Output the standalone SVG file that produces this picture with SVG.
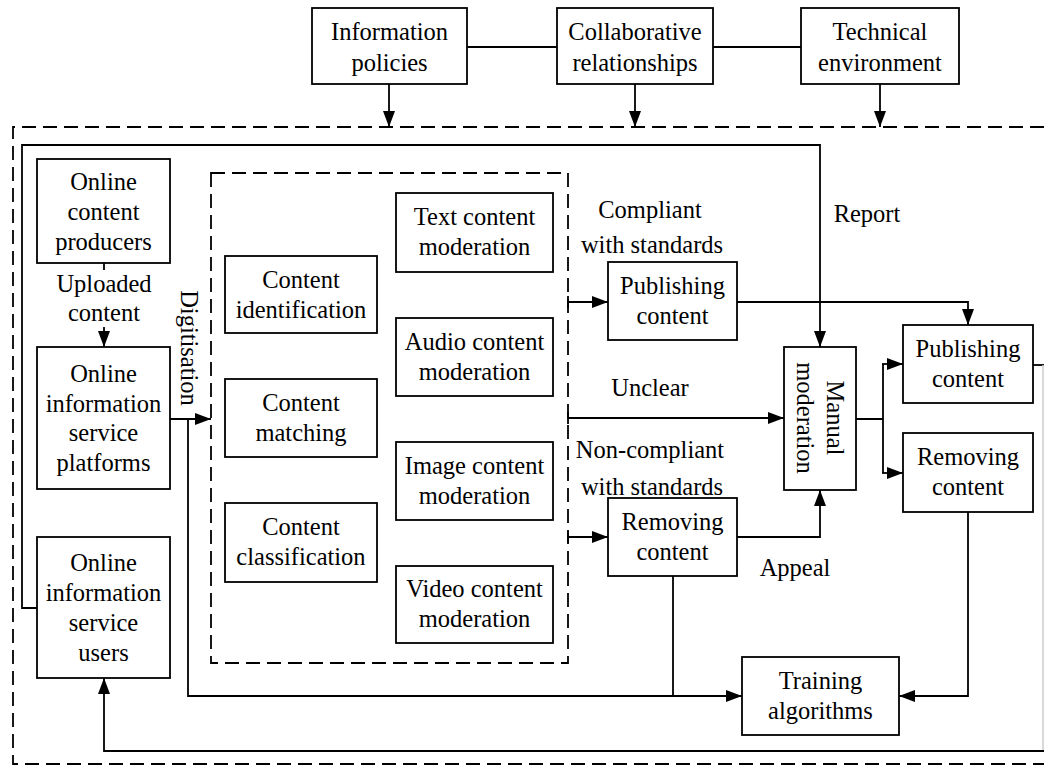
<svg xmlns="http://www.w3.org/2000/svg" width="1044" height="766" viewBox="0 0 1044 766">
<style>
.box{fill:#fff;stroke:#000;stroke-width:1.8}
.ln{fill:none;stroke:#000;stroke-width:1.8}
.dash{fill:none;stroke:#000;stroke-width:1.8;stroke-dasharray:14 7}
text{font-family:"Liberation Serif","Times New Roman",serif;font-size:24.5px;fill:#000;text-anchor:middle}
</style>
<defs>
<marker id="ah" markerUnits="userSpaceOnUse" markerWidth="17" markerHeight="13" refX="16" refY="6" orient="auto">
<path d="M0,0 L16,6 L0,12 z" fill="#000"/>
</marker>
</defs>
<rect width="1044" height="766" fill="#fff"/>
<g id="outer-dashed"><path class="dash" d="M1044,127 H13 V764 H1044"/></g>
<g id="inner-dashed"><rect class="dash" x="211" y="173" width="357" height="490"/></g>
<g id="connectors">
<path class="ln" d="M467,47 H557 M713,47 H801"/>
<path class="ln" d="M389,84 V127" marker-end="url(#ah)"/>
<path class="ln" d="M635,84 V127" marker-end="url(#ah)"/>
<path class="ln" d="M880,84 V127" marker-end="url(#ah)"/>
<path class="ln" d="M104,263 V270"/>
<path class="ln" d="M104,327 V347" marker-end="url(#ah)"/>
<path class="ln" d="M170,419 H211" marker-end="url(#ah)"/>
<path class="ln" d="M188,419 V696 H742" marker-end="url(#ah)"/>
<path class="ln" d="M568,302 H608" marker-end="url(#ah)"/>
<path class="ln" d="M568,418 H784" marker-end="url(#ah)"/>
<path class="ln" d="M568,537 H608" marker-end="url(#ah)"/>
<path class="ln" d="M737,302 H968 V325" marker-end="url(#ah)"/>
<path class="ln" d="M737,537 H820 V490" marker-end="url(#ah)"/>
<path class="ln" d="M673,576 V696"/>
<path class="ln" d="M37,608 H22 V145 H820 V347" marker-end="url(#ah)"/>
<path class="ln" d="M856,419 H883 M883,364 V473"/>
<path class="ln" d="M882,364 H903" marker-end="url(#ah)"/>
<path class="ln" d="M882,473 H903" marker-end="url(#ah)"/>
<path class="ln" d="M968,512 V696 H899" marker-end="url(#ah)"/>
<path class="ln" d="M1033,365 H1044"/>
<path d="M1043,365 V751" fill="none" stroke="#ccc" stroke-width="1.5"/>
<path class="ln" d="M1044,751 H104 V678" marker-end="url(#ah)"/>
<path d="M568,296 V308 M568,412 V424 M568,531 V543" class="ln"/>
</g>
<g id="info-policies"><rect class="box" x="312" y="8" width="155" height="76"/><text x="389.5" y="40">Information</text><text x="389.5" y="71">policies</text></g>
<g id="collab"><rect class="box" x="557" y="8" width="156" height="76"/><text x="635" y="40">Collaborative</text><text x="635" y="71">relationships</text></g>
<g id="technical"><rect class="box" x="801" y="8" width="158" height="76"/><text x="880" y="40">Technical</text><text x="880" y="71">environment</text></g>
<g id="producers"><rect class="box" x="37" y="159" width="133" height="104"/><text x="103.5" y="190">Online</text><text x="103.5" y="220">content</text><text x="103.5" y="250">producers</text></g>
<g id="uploaded-label"><text x="104" y="292">Uploaded</text><text x="104" y="321">content</text></g>
<g id="platforms"><rect class="box" x="37" y="347" width="133" height="142"/><text x="103.5" y="382">Online</text><text x="103.5" y="412">information</text><text x="103.5" y="441">service</text><text x="103.5" y="471">platforms</text></g>
<g id="users"><rect class="box" x="37" y="537" width="133" height="141"/><text x="103.5" y="571">Online</text><text x="103.5" y="601">information</text><text x="103.5" y="631">service</text><text x="103.5" y="661">users</text></g>
<g id="digitisation-label"><text transform="translate(189,348) rotate(90)" x="0" y="8">Digitisation</text></g>
<g id="identification"><rect class="box" x="225" y="256" width="152" height="77"/><text x="301" y="288">Content</text><text x="301" y="318">identification</text></g>
<g id="matching"><rect class="box" x="225" y="379" width="152" height="78"/><text x="301" y="411">Content</text><text x="301" y="441">matching</text></g>
<g id="classification"><rect class="box" x="225" y="503" width="152" height="79"/><text x="301" y="535">Content</text><text x="301" y="565">classification</text></g>
<g id="text-mod"><rect class="box" x="396" y="193" width="157" height="79"/><text x="474.5" y="225">Text content</text><text x="474.5" y="255">moderation</text></g>
<g id="audio-mod"><rect class="box" x="396" y="318" width="157" height="78"/><text x="474.5" y="350">Audio content</text><text x="474.5" y="380">moderation</text></g>
<g id="image-mod"><rect class="box" x="396" y="442" width="157" height="78"/><text x="474.5" y="474">Image content</text><text x="474.5" y="504">moderation</text></g>
<g id="video-mod"><rect class="box" x="396" y="566" width="157" height="77"/><text x="474.5" y="597">Video content</text><text x="474.5" y="627">moderation</text></g>
<g id="labels">
<text x="650" y="218">Compliant</text><text x="652" y="253">with standards</text>
<text x="650" y="396">Unclear</text>
<text x="650" y="458">Non-compliant</text><text x="652" y="495">with standards</text>
<text x="795" y="576">Appeal</text>
<text x="867" y="222">Report</text>
</g>
<g id="publishing-mid"><rect class="box" x="608" y="262" width="129" height="78"/><text x="672.5" y="294">Publishing</text><text x="672.5" y="324">content</text></g>
<g id="removing-mid"><rect class="box" x="608" y="498" width="129" height="78"/><text x="672.5" y="530">Removing</text><text x="672.5" y="560">content</text></g>
<g id="manual"><rect class="box" x="784" y="347" width="72" height="143"/><text transform="translate(820,418) rotate(90)"><tspan x="0" y="-7">Manual</tspan><tspan x="0" y="23">moderation</tspan></text></g>
<g id="publishing-right"><rect class="box" x="903" y="325" width="130" height="78"/><text x="968" y="357">Publishing</text><text x="968" y="387">content</text></g>
<g id="removing-right"><rect class="box" x="903" y="433" width="130" height="79"/><text x="968" y="465">Removing</text><text x="968" y="495">content</text></g>
<g id="training"><rect class="box" x="742" y="657" width="157" height="78"/><text x="820.5" y="689">Training</text><text x="820.5" y="719">algorithms</text></g>
</svg>
